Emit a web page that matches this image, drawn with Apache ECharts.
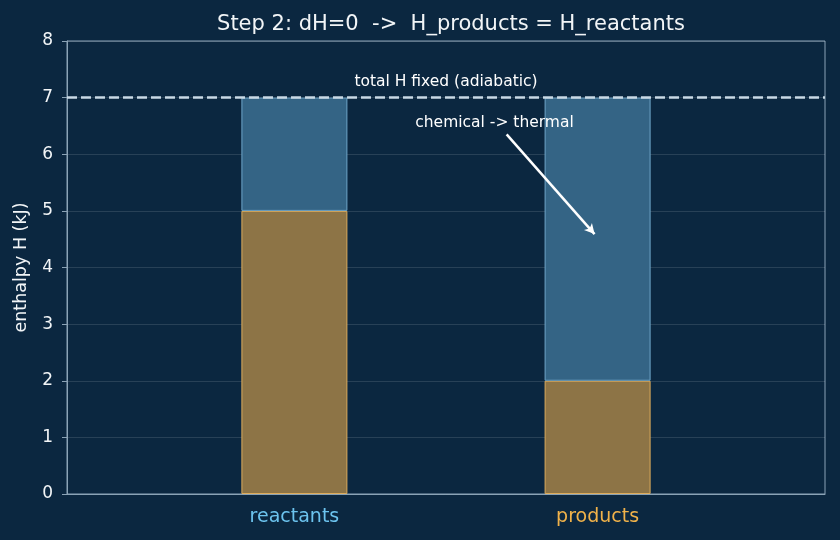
<!DOCTYPE html>
<html>
<head>
<meta charset="utf-8">
<script src="https://cdn.jsdelivr.net/npm/echarts@6/dist/echarts.min.js"></script>
<style>
  html, body { margin: 0; padding: 0; background: #0b2740; }
  #chart { width: 840px; height: 540px; }
</style>
</head>
<body>
<div id="chart"></div>
<script>
// data
const categories = ["reactants", "products"];
const chemical = [5, 2];
const thermal = [2, 5];
const totalH = 7;
const yTicks = [0, 1, 2, 3, 4, 5, 6, 7, 8];

// x range is -0.75..1.75 with bars at 0 and 1 -> 5 half-unit slots
const slots = ["", categories[0], "", categories[1], ""];
const slotOf = [1, 3];
function toSlots(arr) {
  let out = ["-", "-", "-", "-", "-"];
  arr.forEach((v, i) => { out[slotOf[i]] = v; });
  return out;
}

const font = "'DejaVu Sans', sans-serif";
let chart = echarts.init(document.getElementById("chart"));

let option = {
  backgroundColor: "#0b2740",
  textStyle: { fontFamily: font },
  title: {
    text: "Step 2: dH=0  ->  H_products = H_reactants",
    left: 446,
    textAlign: "center",
    top: 9,
    textStyle: { color: "#f2f5f7", fontSize: 21, fontWeight: "normal", fontFamily: font },
  },
  grid: {
    left: 67,
    right: 15,
    top: 41,
    bottom: 46,
    show: true,
    borderColor: "#8ba3b6",
    borderWidth: 1,
    backgroundColor: "transparent",
  },
  xAxis: [
    {
      type: "category",
      data: slots,
      boundaryGap: true,
      splitLine: { show: false },
      axisTick: { show: false },
      axisLine: { show: true, onZero: false, lineStyle: { color: "#8ba3b6", width: 1 } },
      axisLabel: {
        interval: 0,
        margin: 14,
        fontSize: 19,
        fontFamily: font,
        formatter: function (v) {
          if (v === categories[0]) return "{r|" + v + "}";
          if (v === categories[1]) return "{p|" + v + "}";
          return "";
        },
        rich: {
          r: { color: "#6cc3ee", fontSize: 19, fontFamily: font },
          p: { color: "#f0b24a", fontSize: 19, fontFamily: font },
        },
      },
    },
    {
      type: "value",
      min: -0.75,
      max: 1.75,
      show: false,
    },
  ],
  yAxis: {
    type: "value",
    min: yTicks[0],
    max: yTicks[yTicks.length - 1],
    interval: 1,
    name: "enthalpy H (kJ)",
    nameLocation: "middle",
    nameGap: 37,
    nameTextStyle: { color: "#f2f5f7", fontSize: 17.5, fontFamily: font },
    axisLine: { show: true, onZero: false, lineStyle: { color: "#8ba3b6", width: 1 } },
    axisTick: { show: true, length: 5, lineStyle: { color: "#8ba3b6" } },
    axisLabel: { color: "#f2f5f7", fontSize: 17, margin: 14, fontFamily: font },
    splitLine: { show: true, lineStyle: { color: "rgba(255,255,255,0.12)", width: 1 } },
  },
  series: [
    {
      name: "chemical",
      type: "bar",
      stack: "h",
      barWidth: 106,
      data: toSlots(chemical),
      itemStyle: { color: "#8d7446", borderColor: "#dcab5c", borderWidth: 1 },
    },
    {
      name: "thermal",
      type: "bar",
      stack: "h",
      barWidth: 106,
      data: toSlots(thermal),
      itemStyle: { color: "#346485", borderColor: "#6fa6c9", borderWidth: 1 },
    },
    {
      name: "notes",
      type: "scatter",
      xAxisIndex: 1,
      symbolSize: 0,
      silent: true,
      itemStyle: { opacity: 1 },
      data: [
        { value: [0.5, 7.28], label: { formatter: "total H fixed (adiabatic)" } },
        { value: [0.66, 6.55], label: { formatter: "chemical -> thermal" } },
      ],
      label: {
        show: true,
        position: "inside",
        color: "#ffffff",
        opacity: 1,
        fontSize: 15.5,
        fontFamily: font,
      },
      markLine: {
        silent: true,
        animation: false,
        symbol: ["none", "none"],
        label: { show: false },
        lineStyle: { color: "#ffffff", width: 2.5, type: "solid", opacity: 1 },
        data: [
          {
            yAxis: totalH,
            lineStyle: { color: "#c9d9e5", width: 2.5, type: [10, 4] },
          },
          [
            { coord: [0.70, 6.35], symbol: "none" },
            { coord: [0.99, 4.59], symbol: "arrow", symbolSize: [8, 10] },
          ],
        ],
      },
    },
  ],
};

chart.setOption(option);
window.addEventListener("resize", function () {
  chart.resize();
});
</script>
</body>
</html>
